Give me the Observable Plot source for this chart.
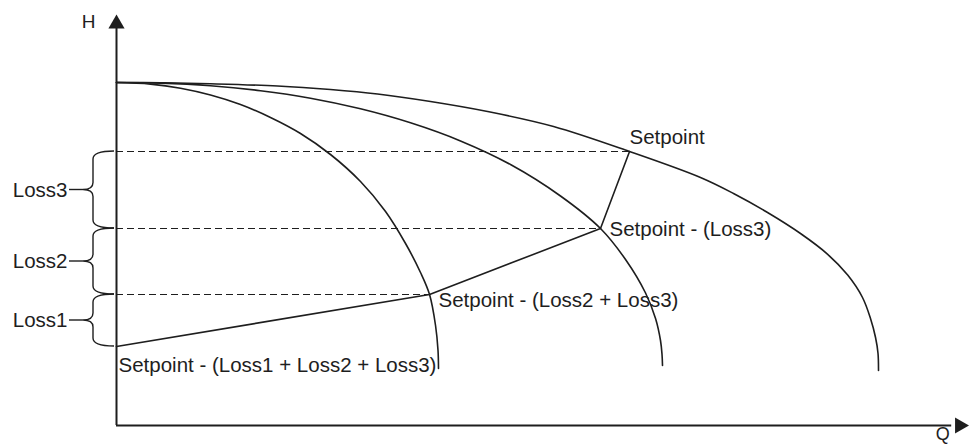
<!DOCTYPE html>
<html>
<head>
<meta charset="utf-8">
<script src="https://cdn.jsdelivr.net/npm/d3@7"></script>
<script src="https://cdn.jsdelivr.net/npm/@observablehq/plot@0.6"></script>
<style>
  html, body { margin: 0; padding: 0; background: #fff; }
  #chart svg { display: block; }
</style>
</head>
<body>
<div id="chart"></div>
<script>
// Pump curves (Q, H)
const pump1Q = [0, 4.25, 8, 11.75, 15.5, 19.25, 23, 26.75, 30.5, 33.63, 36.13, 38, 39.13, 39.88, 40.19, 40.25];
const pump1H = [85.75, 85.35, 84.33, 82.63, 80.25, 77, 73, 67.75, 61, 53.5, 45.5, 38.25, 32.75, 25, 18.75, 14.25];
const pump2Q = [0, 5.5, 11.75, 18, 24.25, 30.5, 36.75, 43, 49.25, 55.5, 60.5, 63.63, 66.13, 67.38, 68, 68.19, 68.25];
const pump2H = [85.75, 85.6, 84.95, 83.7, 81.83, 79.18, 75.68, 71.15, 65.25, 57.38, 49.25, 41.5, 33.13, 26.75, 21.25, 17.75, 15];
const pump3Q = [0, 5.5, 11.75, 20.13, 26.75, 32.63, 39.25, 46.38, 54.63, 64.13, 73, 77.13, 81.38, 85.5, 88.9, 91.4, 93.25, 94.25, 94.88, 95.19, 95.25];
const pump3H = [85.75, 85.68, 85.43, 84.88, 84, 82.88, 81, 78.5, 74.75, 68.5, 62, 58, 53.25, 48, 42.8, 37.6, 32, 26.75, 22, 18, 13.75];

// Setpoint (system) points
const sysQ = [0, 39.13, 60.5, 64.13];
const sysH = [19.75, 32.75, 49.25, 68.5];
const sysLabels = ["Setpoint - (Loss1 + Loss2 + Loss3)", "Setpoint - (Loss2 + Loss3)", "Setpoint - (Loss3)", "Setpoint"];

// Loss brace names (between consecutive setpoint levels)
const lossNames = ["Loss1", "Loss2", "Loss3"];

// Axis labels and extents
const axisLabels = ["H", "Q"];
const qAxisMax = 105.4;
const hAxisMax = 100.4;

const ink = "#1e1e1e";
const font = "'Liberation Sans', Arial, sans-serif";

const toRows = (Q, H, id) => Q.map((q, i) => ({Q: q, H: H[i], id}));
const pumps = [...toRows(pump1Q, pump1H, 1), ...toRows(pump2Q, pump2H, 2), ...toRows(pump3Q, pump3H, 3)];
const sys = sysQ.map((q, i) => ({Q: q, H: sysH[i], label: sysLabels[i]}));
const losses = lossNames.map((name, i) => ({name, lo: sysH[i], hi: sysH[i + 1], mid: (sysH[i] + sysH[i + 1]) / 2}));

function braces(index, scales) {
  const {x, y} = scales;
  const g = d3.create("svg:g").attr("fill", "none").attr("stroke", ink).attr("stroke-width", 1.4);
  const x0 = x(0) - 2, xb = x0 - 21, xt = x0 - 31;
  for (const l of losses) {
    const y1 = y(l.hi), y2 = y(l.lo), m = y(l.mid);
    g.append("path").attr("d",
      `M${x0},${y1} Q${xb},${y1} ${xb},${y1 + 8} L${xb},${m - 7} Q${xb},${m} ${xt},${m} Q${xb},${m} ${xb},${m + 7} L${xb},${y2 - 8} Q${xb},${y2} ${x0},${y2}`);
    g.append("path").attr("d", `M${xt - 14},${m} H${xt}`);
  }
  return g.node();
}

const textStyle = {fill: ink, fontSize: 20.5, fontFamily: font, textAnchor: "start"};

const chart = Plot.plot({
  width: 969,
  height: 448,
  marginLeft: 116,
  marginRight: 53,
  marginTop: 25,
  marginBottom: 23,
  x: {domain: [0, 100], axis: null},
  y: {domain: [0, 100], axis: null},
  style: {fontFamily: font, background: "#fff"},
  marks: [
    // axes
    Plot.ruleY([0], {x1: 0, x2: qAxisMax - 1, stroke: ink, strokeWidth: 2}),
    Plot.ruleX([0], {y1: 0, y2: hAxisMax - 1, stroke: ink, strokeWidth: 2}),
    Plot.dot([{Q: 0, H: hAxisMax}], {x: "Q", y: "H", symbol: "triangle", r: 6, fill: ink, stroke: null}),
    Plot.dot([{Q: qAxisMax, H: 0}], {x: "Q", y: "H", symbol: "triangle", r: 6, fill: ink, stroke: null, rotate: 90}),
    Plot.text([axisLabels[0]], {x: 0, y: hAxisMax, text: d => d, dx: -28, dy: -2, fontSize: 19, fill: ink, fontFamily: font}),
    Plot.text([axisLabels[1]], {x: qAxisMax, y: 0, text: d => d, dx: -17, dy: 9, fontSize: 18, fill: ink, fontFamily: font}),
    // dashed setpoint levels
    Plot.ruleY(sys.slice(1), {x1: 0, x2: "Q", y: "H", stroke: ink, strokeWidth: 1.2, strokeDasharray: "7,4"}),
    // pump curves
    Plot.line(pumps, {x: "Q", y: "H", z: "id", curve: "catmull-rom", stroke: ink, strokeWidth: 1.6}),
    // system (setpoint) line
    Plot.line(sys, {x: "Q", y: "H", stroke: ink, strokeWidth: 1.6}),
    // setpoint labels
    Plot.text(sys.slice(3, 4), {x: "Q", y: "H", text: "label", dx: 0, dy: -14, ...textStyle}),
    Plot.text(sys.slice(2, 3), {x: "Q", y: "H", text: "label", dx: 9, dy: 1, ...textStyle}),
    Plot.text(sys.slice(1, 2), {x: "Q", y: "H", text: "label", dx: 9, dy: 6, ...textStyle}),
    Plot.text(sys.slice(0, 1), {x: "Q", y: "H", text: "label", dx: 2, dy: 19, ...textStyle}),
    // loss braces and labels
    braces,
    Plot.text(losses, {x: 0, y: "mid", text: "name", dx: -49, textAnchor: "end", fontSize: 20.5, fill: ink, fontFamily: font})
  ]
});
document.getElementById("chart").appendChild(chart);
</script>
</body>
</html>
